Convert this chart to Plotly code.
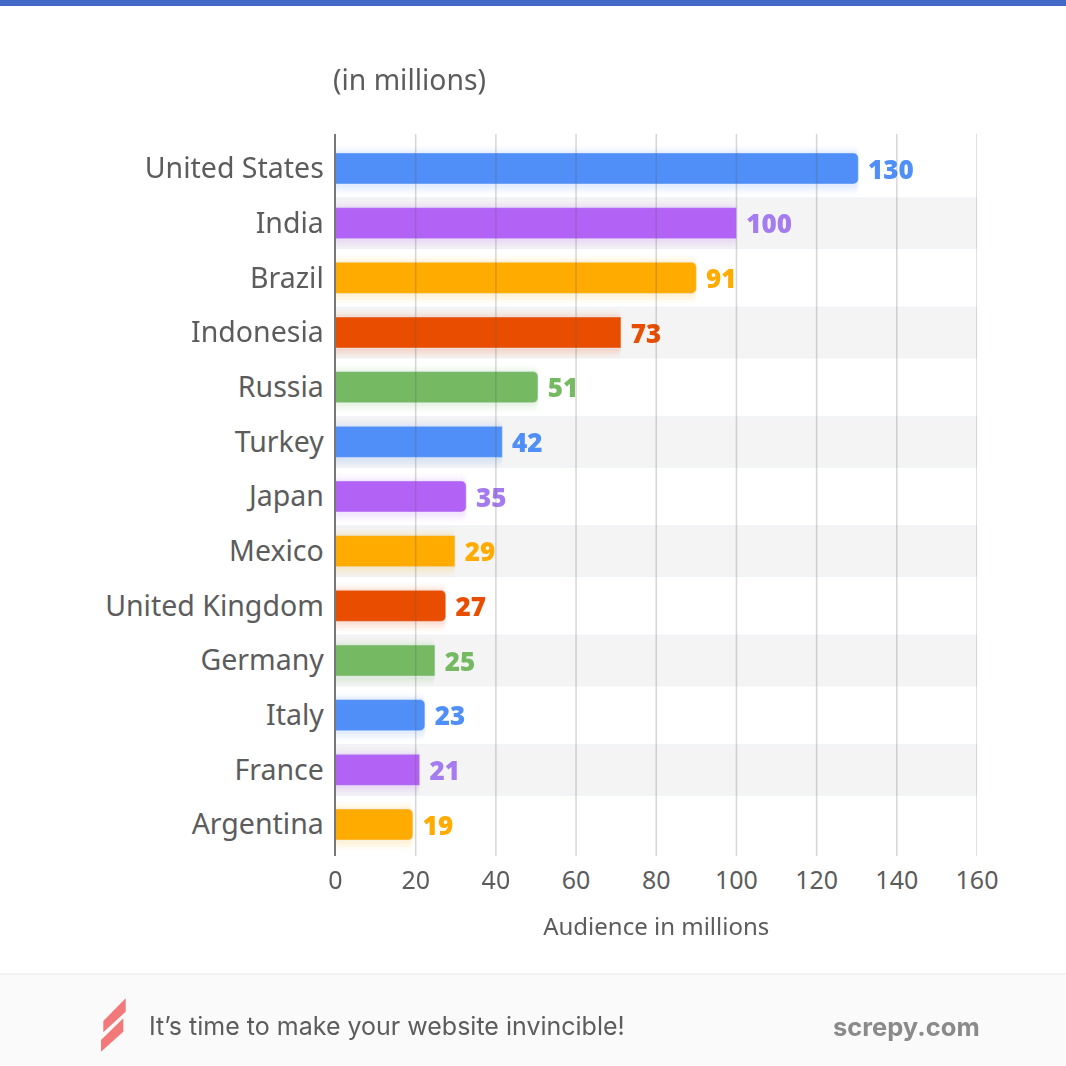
import plotly.graph_objects as go

# Datos
countries = ['United States', 'India', 'Brazil', 'Indonesia', 'Russia', 'Turkey', 'Japan',
             'Mexico', 'United Kingdom', 'Germany', 'Italy', 'France', 'Argentina']
bar_lengths = [130.4, 100, 90, 71.2, 50.5, 41.6, 32.6, 29.8, 27.5, 24.8, 22.3, 21, 19.3]
value_labels = ['130', '100', '91', '73', '51', '42', '35', '29', '27', '25', '23', '21', '19']
band_lengths = [0, 160, 0, 160, 0, 160, 0, 160, 0, 160, 0, 160, 0]
x_ticks = [0, 20, 40, 60, 80, 100, 120, 140, 160]

BLUE, PURPLE, ORANGE, RED, GREEN = '#4F8FF7', '#B263F5', '#FFAB00', '#E94E00', '#76B963'
palette = [BLUE, PURPLE, ORANGE, RED, GREEN]
bar_colors = [palette[i % 5] for i in range(len(countries))]
label_palette = [BLUE, '#A57BF0', ORANGE, RED, GREEN]
label_colors = [label_palette[i % 5] for i in range(len(countries))]

TEXT = '#5c5c5c'
FONT = 'Noto Sans'
SIZE = 1066


def px(v):
    return v / SIZE


def py(v):
    return 1 - v / SIZE


def poly(points):
    # path en pixeles de la pagina, pasado a coordenadas paper
    return 'M' + ' L'.join(f'{px(x)},{py(y)}' for x, y in points) + ' Z'


fig = go.Figure()

# Franjas grises alternas
fig.add_trace(go.Bar(y=countries, x=band_lengths, orientation='h', width=0.93,
                     marker=dict(color='#f4f4f4', cornerradius=0), hoverinfo='skip'))

# Sombra suave de las barras
for width, offset, alpha in [(0.9, -0.42, 0.025), (0.82, -0.38, 0.035), (0.74, -0.34, 0.05), (0.66, -0.31, 0.06)]:
    fig.add_trace(go.Bar(y=countries, x=bar_lengths, orientation='h', width=width, offset=offset,
                         opacity=alpha, marker=dict(color=bar_colors), hoverinfo='skip'))

fig.add_trace(go.Bar(
    y=countries, x=bar_lengths, orientation='h', width=0.57,
    marker=dict(color=bar_colors),
    text=['\u00a0' + t for t in value_labels], textposition='outside', cliponaxis=False,
    constraintext='none',
    textfont=dict(family='Open Sans', size=26, color=label_colors, weight=800),
))

fig.update_layout(
    width=SIZE, height=SIZE,
    margin=dict(l=0, r=0, t=0, b=0),
    paper_bgcolor='white', plot_bgcolor='white',
    barmode='overlay', barcornerradius=5,
    showlegend=False,
    font=dict(family=FONT, color=TEXT),
)

fig.update_xaxes(
    domain=[px(335.5), px(977)], range=[0, 160], automargin=False,
    tickvals=x_ticks, ticklen=0, ticklabelstandoff=7, showgrid=False, zeroline=False,
    tickfont=dict(family=FONT, size=25, color=TEXT),
    title=dict(text='Audience in millions', standoff=23, font=dict(family=FONT, size=24, color=TEXT)),
)
fig.update_yaxes(
    domain=[py(856), py(134)], range=[12.576, -0.631], type='category', automargin=False,
    ticklen=0, ticklabelstandoff=4, showgrid=False, zeroline=False,
    showline=True, linecolor='#777777', linewidth=2, layer='above traces',
    tickfont=dict(family=FONT, size=28.5, color=TEXT),
)

# Lineas de la grilla por encima de las barras
for tick in x_ticks[1:]:
    fig.add_shape(type='line', xref='x', yref='paper', x0=tick, x1=tick, y0=py(856), y1=py(134),
                  line=dict(color='rgba(90,90,90,0.25)', width=1.5), layer='above')

# Banda superior y pie de pagina
fig.add_shape(type='rect', xref='paper', yref='paper', x0=0, x1=1, y0=py(6), y1=1,
              fillcolor='#4269C8', line_width=0)
fig.add_shape(type='rect', xref='paper', yref='paper', x0=0, x1=1, y0=0, y1=py(974),
              fillcolor='#fafafa', line_width=0)
fig.add_shape(type='line', xref='paper', yref='paper', x0=0, x1=1, y0=py(974), y1=py(974),
              line=dict(color='#e8e8e8', width=1))

# Logo
for pts in [[(103.3, 1021), (125.7, 998.3), (125.7, 1011.7), (103.3, 1032.3)],
            [(123.3, 1018.3), (123.3, 1031.7), (101, 1051.7), (101, 1040)]]:
    fig.add_shape(type='path', xref='paper', yref='paper', path=poly(pts),
                  fillcolor='rgba(238,70,70,0.72)', line_width=0)

fig.add_annotation(text='(in millions)', xref='paper', yref='paper', x=px(331), y=py(79),
                   xanchor='left', yanchor='middle', showarrow=False,
                   font=dict(family=FONT, size=28.3, color=TEXT))
fig.add_annotation(text='It’s time to make your website invincible!', xref='paper', yref='paper',
                   x=px(147), y=py(1026), xanchor='left', yanchor='middle', showarrow=False,
                   font=dict(family='Inter', size=25, color=TEXT))
fig.add_annotation(text='screpy.com', xref='paper', yref='paper', x=px(982), y=py(1026),
                   xanchor='right', yanchor='middle', showarrow=False,
                   font=dict(family='Inter', size=25.5, color='#8a8a8a', weight='bold'))

fig.write_html('out.html', config={'displayModeBar': False},
               post_script="document.body.style.margin='0';document.body.style.overflow='hidden';")
